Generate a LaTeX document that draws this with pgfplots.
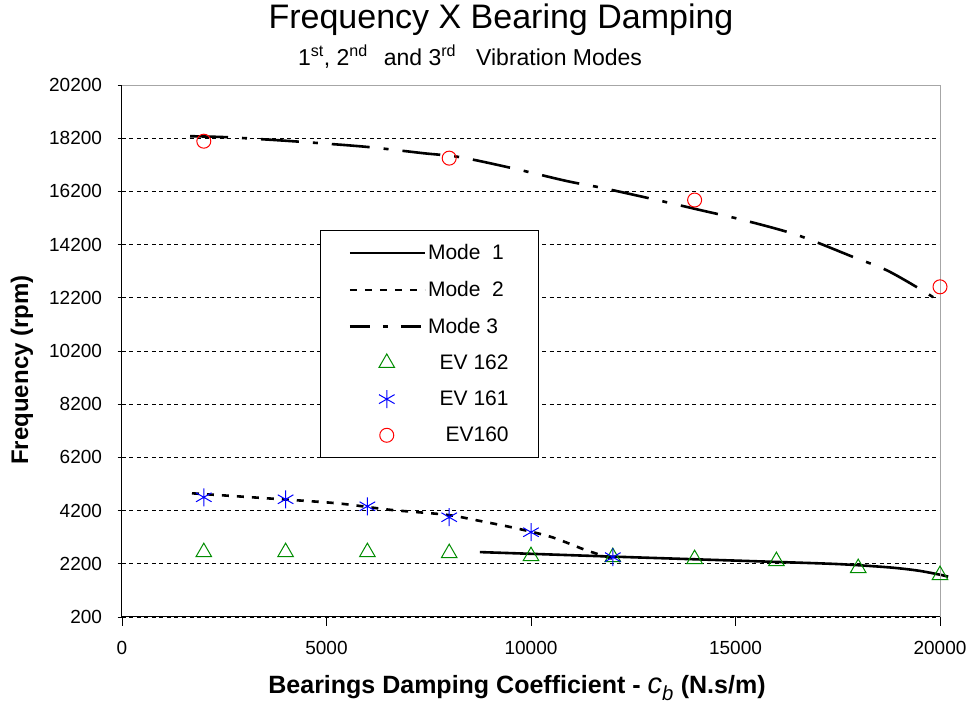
\documentclass[border=0pt]{standalone}
\usepackage{pgfplots}
\pgfplotsset{compat=1.18}
\usepackage{fontspec}
\setmainfont{Liberation Sans}
\definecolor{evgreen}{RGB}{0,140,0}
\definecolor{evblue}{RGB}{0,0,255}
\definecolor{evred}{RGB}{255,0,0}
\pgfplotsset{
  lineleg/.style={legend image code/.code={\draw[##1] (0pt,0pt) -- (75pt,0pt);}},
  dashdotleg/.style={legend image code/.code={\draw[##1, dash pattern=on 20pt off 13pt on 5pt off 13pt] (0pt,0pt) -- (75pt,0pt);}},
  markleg/.style={legend image code/.code={\draw[mark repeat=2,mark phase=2,##1] plot coordinates {(0pt,0pt) (37pt,0pt) (75pt,0pt)};}},
}
\begin{document}
\begin{tikzpicture}
\useasboundingbox (-122pt,-86pt) rectangle (849pt,617pt);
\begin{axis}[
  at={(0,0)}, anchor=south west,
  scale only axis, width=818pt, height=532pt,
  xmin=0, xmax=20000, ymin=200, ymax=20200,
  xtick={0,5000,10000,15000,20000},
  ytick={200,2200,4200,6200,8200,10200,12200,14200,16200,18200,20200},
  axis x line*=bottom, axis y line*=left,
  axis line style={black, line width=1pt, -},
  xtick align=outside, ytick align=center,
  major tick length=9pt,
  every tick/.style={black, line width=0.8pt},
  ymajorgrids, grid style={black, line width=0.8pt, dash pattern=on 4pt off 3.5pt},
  tick label style={font=\fontsize{19}{22}\selectfont},
  xticklabel style={yshift=-12pt},
  yticklabel style={xshift=-12pt},
  /pgf/number format/assume math mode=true,
  /pgf/number format/1000 sep={},
  scaled ticks=false,
  clip=false,
  legend style={at={(0.242,0.727)}, anchor=north west, draw=black, line width=1pt,
    font=\fontsize{21}{24}\selectfont, row sep=16pt, inner xsep=28pt, inner ysep=12pt,
    nodes={inner sep=2pt}},
  legend cell align=left,
]
\addplot[black, line width=2.6pt, smooth, lineleg]
  coordinates {(8750,2640) (10000,2575) (12000,2470) (14000,2370) (16000,2270) (17500,2190) (18500,2095) (19000,2030) (19500,1935) (20000,1790) (20200,1715)};
\addlegendentry{Mode\ \ 1}
\addplot[black, line width=2.6pt, smooth, dash pattern=on 7pt off 8pt, lineleg]
  coordinates {(1711,4850) (3545,4662) (5257,4475) (6553,4230) (7946,4040) (8753,3810) (9633,3537) (10513,3200) (11345,2712) (12176,2300)};
\addlegendentry{Mode\ \ 2}
\addplot[black, line width=2.6pt, smooth, dash pattern=on 38pt off 14pt on 5pt off 14pt, dashdotleg]
  coordinates {(1663,18275) (2567,18237) (3790,18125) (4841,18012) (6064,17862) (7359,17637) (8264,17487) (9535,17075) (10880,16587) (11760,16325) (13081,15875) (14132,15500) (15183,15125) (16504,14562) (17873,13737) (18704,13230) (19584,12462) (20073,11975)};
\addlegendentry{Mode 3}
\addplot[only marks, mark=triangle, mark size=9pt, color=evgreen, mark options={line width=1pt}, markleg]
  coordinates {(2000,2637) (4000,2637) (6000,2637) (8000,2600) (10000,2487) (12000,2450) (14000,2375) (16000,2300) (18000,2037) (20000,1775)};
\addlegendentry{\ \ EV 162}
\addplot[only marks, mark=asterisk, mark size=9pt, color=evblue, mark options={line width=1pt}, markleg]
  coordinates {(2000,4700) (4000,4625) (6000,4362) (8000,3950) (10000,3387) (12000,2450)};
\addlegendentry{\ \ EV 161}
\addplot[only marks, mark=o, mark size=7pt, color=evred, mark options={line width=1pt}, markleg]
  coordinates {(2000,18087) (8000,17450) (14000,15875) (20000,12612)};
\addlegendentry{\ \ \ EV160}
\draw[gray!70, line width=0.8pt] (rel axis cs:0,1) -- (rel axis cs:1,1) -- (rel axis cs:1,0);
\end{axis}
\node[font=\fontsize{34}{40}\selectfont] at (379pt,597pt) {Frequency X Bearing Damping};
\node[font=\fontsize{23}{27}\selectfont] at (348pt,560pt) {1\textsuperscript{st}, 2\textsuperscript{nd}\hspace{16pt}and 3\textsuperscript{rd}\hspace{20pt}Vibration Modes};
\node[font=\bfseries\fontsize{24}{28}\selectfont, rotate=90] at (-100pt,247pt) {Frequency (rpm)};
\node[font=\bfseries\fontsize{25}{29}\selectfont] at (395pt,-71pt) {Bearings Damping Coefficient - {\mdseries\itshape\fontsize{29}{31}\selectfont c\textsubscript{b}} (N.s/m)};
\end{tikzpicture}
\end{document}
